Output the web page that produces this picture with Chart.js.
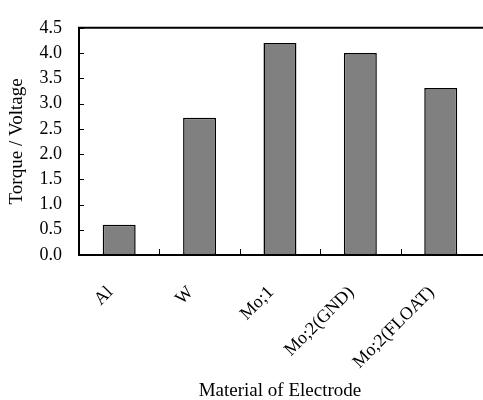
<!DOCTYPE html>
<html>
<head>
<meta charset="utf-8">
<script src="https://cdn.jsdelivr.net/npm/chart.js@4/dist/chart.umd.min.js"></script>
<style>
html,body{margin:0;padding:0;background:#fff;}
#wrap{width:483px;height:400px;}
</style>
</head>
<body>
<div id="wrap"><canvas id="c" width="483" height="400"></canvas></div>
<script>
const categories = ["Al", "W", "Mo;1", "Mo;2(GND)", "Mo;2(FLOAT)"];
const values = [0.6, 2.72, 4.2, 4.0, 3.31];
const yTicks = [0.0, 0.5, 1.0, 1.5, 2.0, 2.5, 3.0, 3.5, 4.0, 4.5];

const FONT = "'Liberation Serif', 'Times New Roman', serif";

const framePlugin = {
  id: 'frame',
  afterDatasetsDraw(chart) {
    const {ctx, chartArea, scales} = chart;
    ctx.save();
    ctx.strokeStyle = '#000';
    ctx.lineWidth = 1;
    ctx.beginPath();
    const x = scales.x;
    for (let i = 0; i < categories.length - 1; i++) {
      const px = Math.round((x.getPixelForValue(i) + x.getPixelForValue(i + 1)) / 2) + 0.5;
      ctx.moveTo(px, chartArea.bottom);
      ctx.lineTo(px, chartArea.bottom - 6);
    }
    const y = scales.y;
    for (const v of yTicks) {
      const py = Math.round(y.getPixelForValue(v)) + 0.5;
      ctx.moveTo(chartArea.left, py);
      ctx.lineTo(chartArea.left + 5, py);
    }
    ctx.stroke();
    ctx.lineWidth = 2;
    ctx.beginPath();
    ctx.moveTo(chartArea.left, chartArea.bottom);
    ctx.lineTo(chartArea.left, chartArea.top);
    ctx.lineTo(chartArea.right + 10, chartArea.top);
    ctx.moveTo(chartArea.left - 1, chartArea.bottom);
    ctx.lineTo(chartArea.right + 10, chartArea.bottom);
    ctx.stroke();
    ctx.restore();
  }
};

new Chart(document.getElementById('c'), {
  type: 'bar',
  data: {
    labels: categories,
    datasets: [{
      data: values,
      backgroundColor: '#808080',
      borderColor: '#000',
      borderWidth: 1.5,
      borderSkipped: false,
      barPercentage: 0.41,
      categoryPercentage: 1.0
    }]
  },
  options: {
    responsive: false,
    animation: false,
    devicePixelRatio: 1,
    layout: { padding: { top: 16, right: -5, left: 0, bottom: 0 } },
    plugins: { legend: { display: false }, tooltip: { enabled: false } },
    scales: {
      x: {
        grid: { display: false, drawTicks: false },
        border: { display: false },
        ticks: {
          color: '#000',
          font: { family: FONT, size: 18 },
          minRotation: 45, maxRotation: 45,
          padding: 27,
          labelOffset: -9
        },
        title: {
          display: true,
          text: 'Material of Electrode',
          color: '#000',
          font: { family: FONT, size: 19 },
          padding: { top: 4, bottom: -2 }
        },
        afterFit(s) { s.height = 145; }
      },
      y: {
        min: 0, max: 4.5,
        afterBuildTicks(s) { s.ticks = yTicks.map(v => ({ value: v })); },
        grid: { display: false, drawTicks: false },
        border: { display: false },
        ticks: {
          color: '#000',
          font: { family: FONT, size: 18 },
          padding: 17,
          callback: v => Number(v).toFixed(1)
        },
        title: {
          display: true,
          text: 'Torque / Voltage',
          color: '#000',
          font: { family: FONT, size: 19 },
          padding: { top: 6, bottom: 0 }
        },
        afterFit(s) { s.width = 79; }
      }
    }
  },
  plugins: [framePlugin]
});
</script>
</body>
</html>
